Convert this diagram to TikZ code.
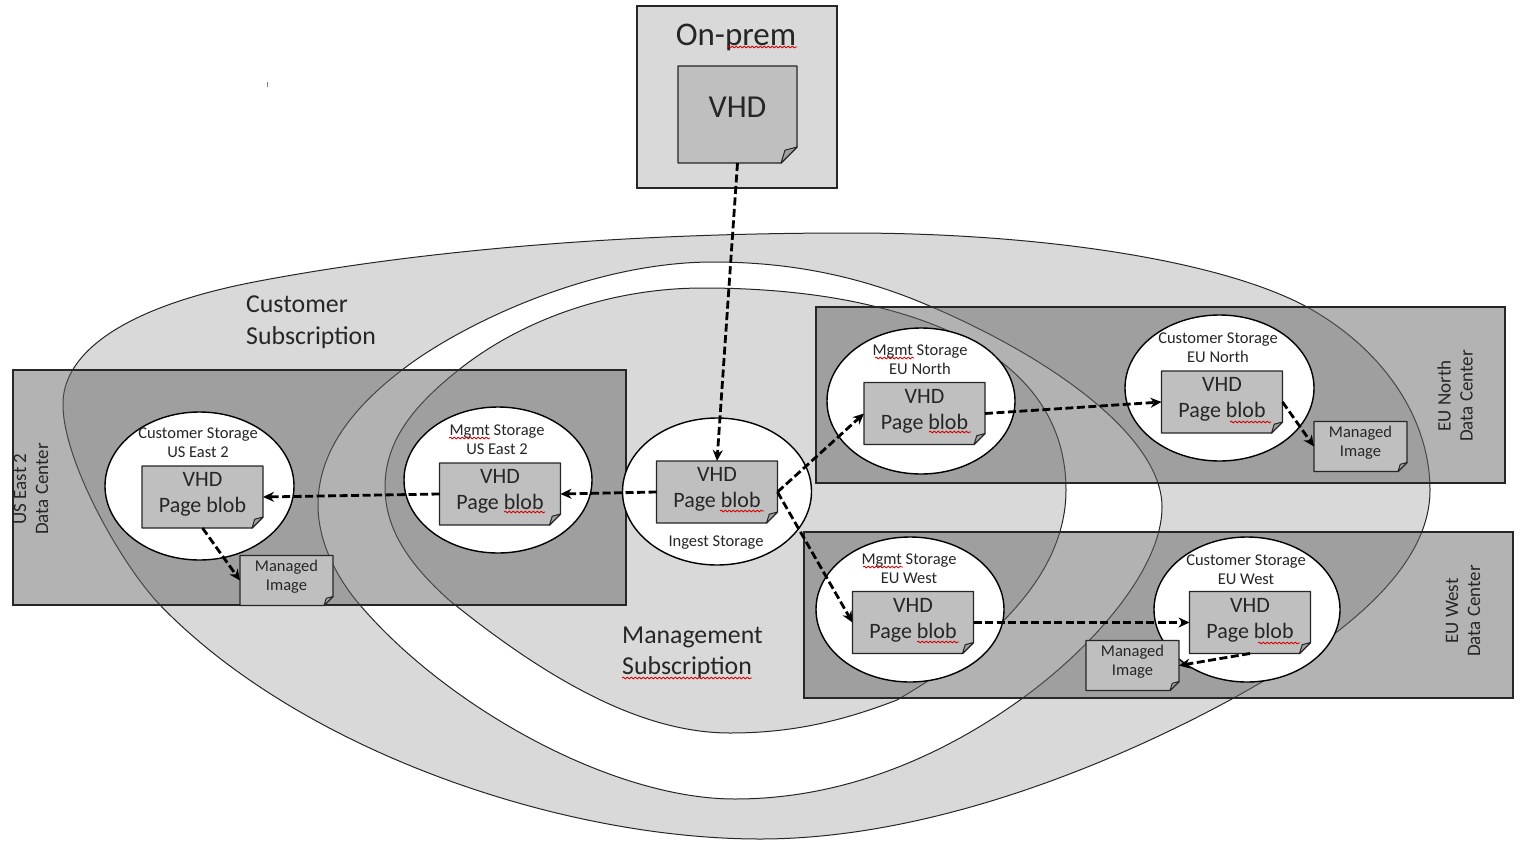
\documentclass[tikz,border=0pt]{standalone}
\usepackage{fontspec}
\setmainfont{Carlito}
\usepackage{xcolor}
\usetikzlibrary{shapes.geometric,decorations.pathmorphing,arrows.meta}
\definecolor{zonegray}{HTML}{D9D9D9}
\definecolor{docgray}{HTML}{BFBFBF}
\definecolor{foldgray}{HTML}{A0A0A0}
\definecolor{dcgray}{HTML}{676767}
\definecolor{inkgray}{HTML}{262626}
\tikzset{
  zone/.style={draw=inkgray,line width=1pt},
  dcbox/.style={draw=inkgray,line width=1.3pt,fill=dcgray,fill opacity=.5},
  storage/.style={ellipse,draw=black,line width=1.4pt,fill=white,inner sep=0,outer sep=0},
  docline/.style={draw=inkgray,line width=1.4pt,line join=round},
  vhdsrc/.style={inner sep=0,outer sep=0,minimum width=119pt,minimum height=97pt},
  vhdsrctext/.style={font=\fontsize{32}{36}\selectfont,text=inkgray,inner sep=0,yshift=7pt},
  vhdblob/.style={inner sep=0,outer sep=0,minimum width=121pt,minimum height=62pt},
  vhdblobtext/.style={font=\fontsize{22}{26}\selectfont,text=inkgray,align=center,inner sep=0,yshift=2.5pt},
  imgdoc/.style={inner sep=0,outer sep=0,minimum width=93pt,minimum height=50pt},
  imgdoctext/.style={font=\fontsize{16.5}{19.5}\selectfont,text=inkgray,align=center,inner sep=0,yshift=4pt},
  tag/.style={font=\fontsize{16.5}{19}\selectfont,text=inkgray,align=center,inner sep=0},
  dctag/.style={font=\fontsize{19}{22}\selectfont,text=inkgray,align=center,inner sep=0,rotate=90},
  bigtag/.style={font=\fontsize{25.8}{31.5}\selectfont,text=inkgray,align=left,inner sep=0},
  flow/.style={-{Stealth[length=11pt,width=10pt]},dash pattern=on 8pt off 3.5pt,line width=2.8pt,black},
  squiggle/.style={red!85!black,line width=.8pt,decorate,decoration={snake,amplitude=.9pt,segment length=4pt}}
}
% style, name, place, fold, text
\newcommand{\docnode}[5]{
  \node[#1] (#2) at (#3) {};
  \draw[docline,fill=docgray] (#2.north west) -- (#2.north east) -- ([yshift=#4pt]#2.south east) -- ([xshift=-#4pt]#2.south east) -- (#2.south west) -- cycle;
  \draw[docline,line width=1pt,fill=foldgray] ([yshift=#4pt]#2.south east) -- ([xshift=-.75*#4pt,yshift=.8*#4pt]#2.south east) -- ([xshift=-#4pt]#2.south east) -- cycle;
  \node[#1text] (#2txt) at (#2) {#5};
}
\begin{document}
\begin{tikzpicture}[x=1pt,y=-1pt]
\useasboundingbox (0,0) rectangle (1521,849);
% the two subscriptions
\draw[zone,fill=zonegray] (63,405) .. controls (62,360) and (110,310) .. (254,282) .. controls (400,254) and (600,233) .. (850,233) .. controls (1040,233) and (1220,260) .. (1307,307) .. controls (1385,350) and (1430,420) .. (1430,490) .. controls (1430,570) and (1340,640) .. (1230,700) .. controls (1110,765) and (930,839) .. (760,839) .. controls (560,839) and (300,750) .. (160,605) .. controls (120,563) and (63,460) .. (63,405) -- cycle;
\draw[zone,fill=white] (318,505) .. controls (318,450) and (355,406) .. (402,370) .. controls (460,325) and (590,262) .. (713,262) .. controls (800,262) and (870,280) .. (932,307) .. controls (1060,362) and (1162,440) .. (1162,507) .. controls (1162,570) and (1090,650) .. (1020,700) .. controls (960,743) and (860,799) .. (735,799) .. controls (610,799) and (445,705) .. (360,605) .. controls (335,576) and (318,540) .. (318,505) -- cycle;
\draw[zone,fill=zonegray] (385,487) .. controls (385,440) and (415,405) .. (456,372) .. controls (520,320) and (610,288) .. (703,288) .. controls (770,288) and (830,295) .. (877,307) .. controls (1000,337) and (1066,400) .. (1066,490) .. controls (1066,570) and (1000,640) .. (897,700) .. controls (840,722) and (790,733) .. (730,733) .. controls (650,733) and (560,690) .. (449,600) .. controls (410,565) and (385,530) .. (385,487) -- cycle;
% data centers
\draw[dcbox] (13,370) rectangle (626,605);
\draw[dcbox] (816,307) rectangle (1505,483);
\draw[dcbox] (804,532) rectangle (1513,698);
\node[dctag] (lblEast) at (31,489) {US East 2\\Data Center};
\node[dctag] (lblNorth) at (1455,396) {EU North\\Data Center};
\node[dctag] (lblWest) at (1463,611) {EU West\\Data Center};
\node[bigtag,anchor=west] (lblCust) at (246,322) {Customer\\Subscription};
\node[bigtag,anchor=west] (lblMgmt) at (622,653) {Management\\Subscription};
\draw[gray,line width=.6pt] (267,82) -- (267,87);
% on-prem
\node[draw=inkgray,line width=1.4pt,fill=zonegray,minimum width=200pt,minimum height=182pt,inner sep=0] (onprem) at (737,97) {};
\node[font=\fontsize{33}{38}\selectfont,text=inkgray,inner sep=0] (lblOnprem) at (736,37) {On-prem};
\docnode{vhdsrc}{vhdSrc}{737.5,114.5}{16}{VHD}
% storage accounts
\node[storage,minimum width=189pt,minimum height=147pt] (ingest) at (717,491.5) {};
\node[storage,minimum width=188pt,minimum height=146pt] (mgmtEast) at (498,480) {};
\node[storage,minimum width=189pt,minimum height=148pt] (custEast) at (199.5,486) {};
\node[storage,minimum width=188pt,minimum height=146pt] (mgmtNorth) at (921,401) {};
\node[storage,minimum width=189pt,minimum height=146pt] (custNorth) at (1219.5,388) {};
\node[storage,minimum width=188pt,minimum height=145pt] (mgmtWest) at (910,609.5) {};
\node[storage,minimum width=186pt,minimum height=145pt] (custWest) at (1247,609.5) {};
\node[tag] (lblIngest) at (716,543) {Ingest Storage};
\node[tag] (lblMgmtEast) at (497,439.5) {Mgmt Storage\\US East 2};
\node[tag] (lblCustEast) at (198,442.5) {Customer Storage\\US East 2};
\node[tag] (lblMgmtNorth) at (920,359.5) {Mgmt Storage\\EU North};
\node[tag] (lblCustNorth) at (1218,347.5) {Customer Storage\\EU North};
\node[tag] (lblMgmtWest) at (909,568.5) {Mgmt Storage\\EU West};
\node[tag] (lblCustWest) at (1246,569.5) {Customer Storage\\EU West};
% page blobs and images
\docnode{vhdblob}{blobIngest}{717,492}{11}{VHD\\Page blob}
\docnode{vhdblob}{blobMgmtEast}{500,494}{11}{VHD\\Page blob}
\docnode{vhdblob}{blobCustEast}{202.5,497}{11}{VHD\\Page blob}
\docnode{vhdblob}{blobMgmtNorth}{924.5,413.5}{11}{VHD\\Page blob}
\docnode{vhdblob}{blobCustNorth}{1222,402}{11}{VHD\\Page blob}
\docnode{vhdblob}{blobMgmtWest}{913,622.5}{11}{VHD\\Page blob}
\docnode{vhdblob}{blobCustWest}{1250,622.5}{11}{VHD\\Page blob}
\docnode{imgdoc}{imgEast}{286.5,580.5}{9}{Managed\\Image}
\docnode{imgdoc}{imgNorth}{1360.5,446.5}{9}{Managed\\Image}
\docnode{imgdoc}{imgWest}{1132.5,665.5}{9}{Managed\\Image}
% copies
\draw[flow] (vhdSrc.south) -- (blobIngest.north);
\draw[flow] (blobIngest.west) -- (blobMgmtEast.east);
\draw[flow] (blobMgmtEast.west) -- (blobCustEast.east);
\draw[flow] (blobCustEast.south) -- (imgEast.west);
\draw[flow] (blobIngest.east) -- (blobMgmtNorth.west);
\draw[flow] (blobIngest.east) -- (blobMgmtWest.west);
\draw[flow] (blobMgmtNorth.east) -- (blobCustNorth.west);
\draw[flow] (blobCustNorth.east) -- (imgNorth.west);
\draw[flow] (blobMgmtWest.east) -- (blobCustWest.west);
\draw[flow] (blobCustWest.south) -- (imgWest.east);
% spell checker marks
\foreach \xa/\xb/\ya in {727/797/47,449/490/438,504/545/512,720/764/511,875/914/358,929/971/432,1230/1271/422,863/903/567,917/959/642,1258/1300/643,622/752/678}
  \draw[squiggle] (\xa,\ya) -- (\xb,\ya);
\end{tikzpicture}
\end{document}
